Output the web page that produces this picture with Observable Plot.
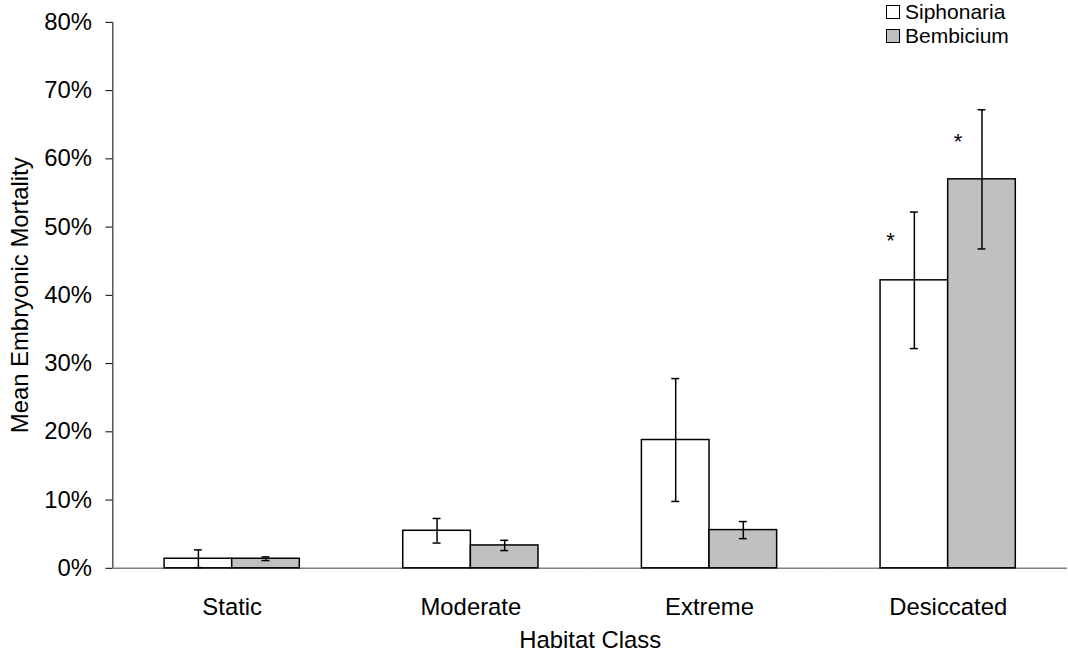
<!DOCTYPE html>
<html>
<head>
<meta charset="utf-8">
<script src="https://cdn.jsdelivr.net/npm/d3@7"></script>
<script src="https://cdn.jsdelivr.net/npm/@observablehq/plot@0.6"></script>
<style>
  html, body { margin: 0; padding: 0; background: #fff; overflow: hidden; }
  #wrap { position: relative; width: 1068px; height: 657px; }
  #chart svg g[aria-label="y-axis tick"] { stroke: #7f7f7f; }
  #legend { position: absolute; left: 886px; top: 0px; font-family: "Liberation Sans", Arial, sans-serif; font-size: 21px; color: #000; line-height: 24px; }
  #legend .row { display: flex; align-items: center; height: 24px; }
  #legend .sw { width: 12px; height: 12px; border: 1px solid #000; margin-right: 5px; box-sizing: content-box; }
</style>
</head>
<body>
<div id="wrap"><div id="chart"></div><div id="legend"></div></div>
<script>
const categories = ["Static", "Moderate", "Extreme", "Desiccated"];
const series = ["Siphonaria", "Bembicium"];
const seriesColors = ["#ffffff", "#c0c0c0"];
const siphonariaMean = [1.4, 5.5, 18.8, 42.2];
const siphonariaErr = [1.3, 1.8, 9.0, 10.0];
const bembiciumMean = [1.4, 3.35, 5.6, 57.0];
const bembiciumErr = [0.27, 0.75, 1.25, 10.2];
const yTicks = [0, 10, 20, 30, 40, 50, 60, 70, 80];
const sigCategory = ["Desiccated", "Desiccated"];
const sigSeries = ["Siphonaria", "Bembicium"];
const sigY = [48, 62.5];

const rows = [];
categories.forEach((c, i) => {
  rows.push({category: c, series: series[0], mean: siphonariaMean[i], err: siphonariaErr[i]});
  rows.push({category: c, series: series[1], mean: bembiciumMean[i], err: bembiciumErr[i]});
});
const sig = sigCategory.map((c, i) => ({category: c, series: sigSeries[i], y: sigY[i]}));

const chart = Plot.plot({
  width: 1074,
  height: 657,
  marginLeft: 111,
  marginRight: 0,
  marginTop: 22,
  marginBottom: 86,
  style: {fontFamily: "'Liberation Sans', Arial, sans-serif", fontSize: "24px", color: "#000", background: "#fff"},
  fx: {domain: categories, padding: 0, label: "Habitat Class", labelAnchor: "center", tickSize: 0, tickPadding: 30, labelOffset: 80},
  x: {domain: series, paddingInner: 0, paddingOuter: 0.746, align: 0.5, axis: null},
  y: {domain: [0, 80], ticks: yTicks, tickFormat: d => d + "%", tickSize: 7, tickPadding: 14, line: true,
      label: "Mean Embryonic Mortality", labelAnchor: "center", labelArrow: "none", labelOffset: 102},
  color: {domain: series, range: seriesColors},
  marks: [
    Plot.ruleY([0], {stroke: "#7f7f7f", strokeWidth: 1.5}),
    Plot.barY(rows, {fx: "category", x: "series", y: "mean", fill: "series", stroke: "#000", strokeWidth: 1.5}),
    Plot.ruleX(rows, {fx: "category", x: "series", y1: d => d.mean - d.err, y2: d => d.mean + d.err, stroke: "#000", strokeWidth: 1.5}),
    Plot.tickY(rows, {fx: "category", x: "series", y: d => d.mean - d.err, stroke: "#000", strokeWidth: 1.5, insetLeft: 30, insetRight: 30}),
    Plot.tickY(rows, {fx: "category", x: "series", y: d => d.mean + d.err, stroke: "#000", strokeWidth: 1.5, insetLeft: 30, insetRight: 30}),
    Plot.text(sig, {fx: "category", x: "series", y: "y", text: () => "*", dx: -24, fontSize: 22, fill: "#000"})
  ]
});
document.getElementById("chart").appendChild(chart);

const legend = document.getElementById("legend");
series.forEach((s, i) => {
  const row = document.createElement("div");
  row.className = "row";
  const sw = document.createElement("div");
  sw.className = "sw";
  sw.style.background = seriesColors[i];
  const t = document.createElement("span");
  t.textContent = s;
  row.appendChild(sw);
  row.appendChild(t);
  legend.appendChild(row);
});
</script>
</body>
</html>
